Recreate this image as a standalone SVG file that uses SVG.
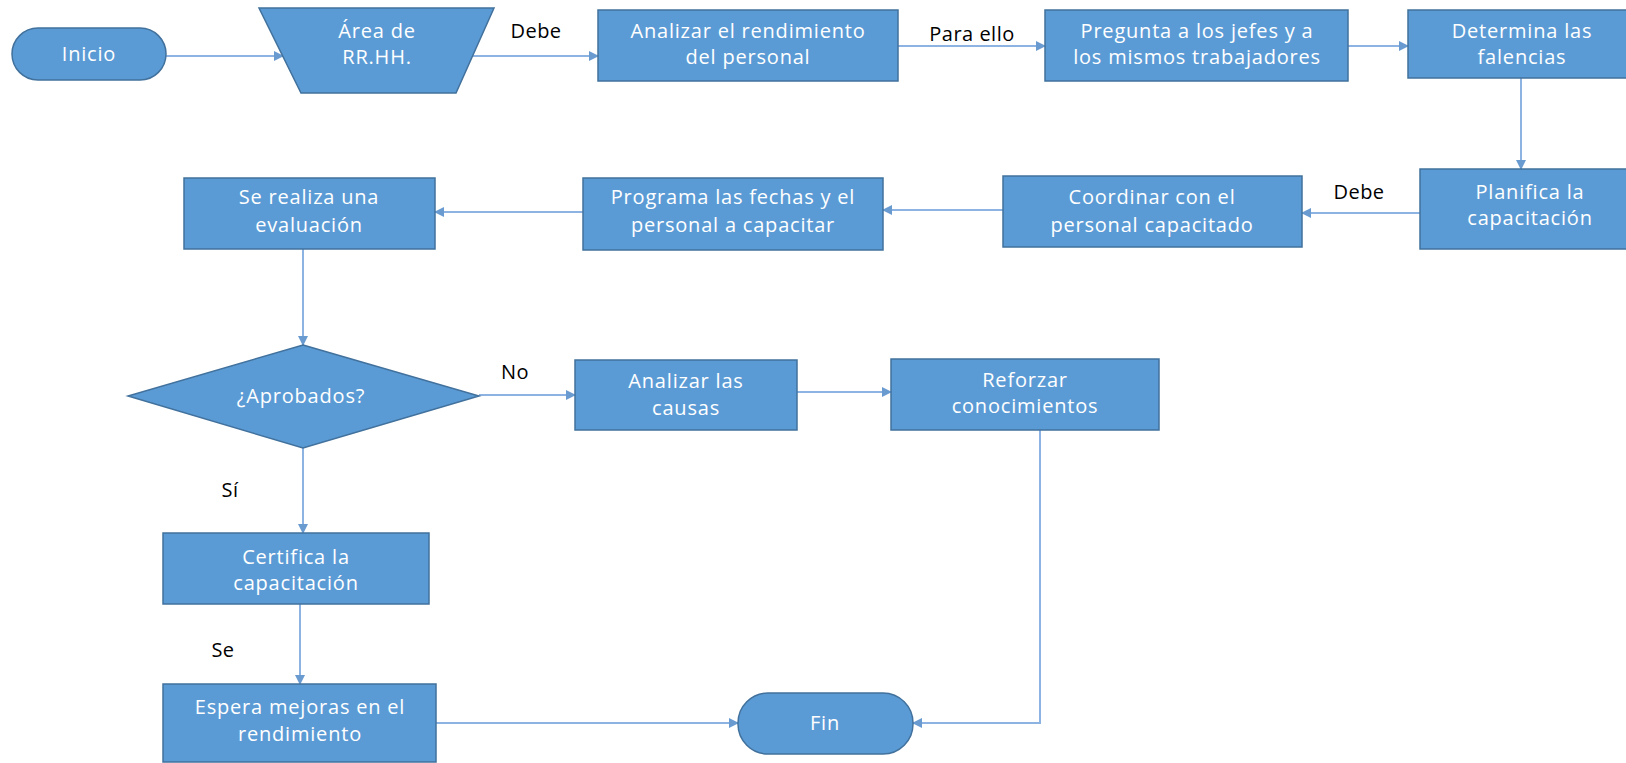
<svg xmlns="http://www.w3.org/2000/svg" width="1626" height="763" viewBox="0 0 1626 763">
<style>
.n{fill:#5B9BD5;stroke:#41719C;stroke-width:1.5}
.t{fill:#ffffff;font-family:"Open Sans","Liberation Sans",sans-serif;font-size:20px;letter-spacing:0.8px;text-anchor:middle}
.l{fill:#000000;font-family:"Open Sans","Liberation Sans",sans-serif;font-size:20px;letter-spacing:0.5px;text-anchor:middle}
.c{fill:none;stroke:#8DB3E2;stroke-width:2;marker-end:url(#a)}
</style>
<defs>
<marker id="a" viewBox="0 0 10 10" refX="9" refY="5" markerWidth="5" markerHeight="5" orient="auto" markerUnits="strokeWidth">
<path d="M0,0 L10,5 L0,10 z" fill="#6A9BD0"/>
</marker>
</defs>
<rect width="1626" height="763" fill="#ffffff"/>
<g id="connectors">
<line class="c" x1="166" y1="56" x2="283" y2="56"/>
<line class="c" x1="473" y1="56" x2="598" y2="56"/>
<line class="c" x1="898" y1="46" x2="1045" y2="46"/>
<line class="c" x1="1348" y1="46" x2="1408" y2="46"/>
<line class="c" x1="1521" y1="78" x2="1521" y2="169"/>
<line class="c" x1="1420" y1="213" x2="1302" y2="213"/>
<line class="c" x1="1003" y1="210" x2="883" y2="210"/>
<line class="c" x1="583" y1="212" x2="435" y2="212"/>
<line class="c" x1="303" y1="249" x2="303" y2="345"/>
<line class="c" x1="479" y1="395" x2="575" y2="395"/>
<line class="c" x1="797" y1="392" x2="891" y2="392"/>
<polyline class="c" points="1040,430 1040,723 913,723"/>
<line class="c" x1="303" y1="448" x2="303" y2="533"/>
<line class="c" x1="300" y1="604" x2="300" y2="684"/>
<line class="c" x1="436" y1="723" x2="738" y2="723"/>
<text class="l" x="536" y="38">Debe</text>
<text class="l" x="972" y="41">Para ello</text>
<text class="l" x="1359" y="199">Debe</text>
<text class="l" x="515" y="379">No</text>
<text class="l" x="230" y="497">Sí</text>
<text class="l" x="223" y="657">Se</text>
</g>
<g id="inicio">
<rect class="n" x="12" y="28" width="154" height="52" rx="26"/>
<text class="t" x="89" y="61">Inicio</text>
</g>
<g id="area">
<polygon class="n" points="259,8 494,8 456,93 301,93"/>
<text class="t" x="377" y="38">Área de</text>
<text class="t" x="377" y="64">RR.HH.</text>
</g>
<g id="analizar">
<rect class="n" x="598" y="10" width="300" height="71"/>
<text class="t" x="748" y="38">Analizar el rendimiento</text>
<text class="t" x="748" y="64">del personal</text>
</g>
<g id="pregunta">
<rect class="n" x="1045" y="10" width="303" height="71"/>
<text class="t" x="1197" y="38">Pregunta a los jefes y a</text>
<text class="t" x="1197" y="64">los mismos trabajadores</text>
</g>
<g id="determina">
<rect class="n" x="1408" y="10" width="230" height="68"/>
<text class="t" x="1522" y="38">Determina las</text>
<text class="t" x="1522" y="64">falencias</text>
</g>
<g id="planifica">
<rect class="n" x="1420" y="169" width="218" height="80"/>
<text class="t" x="1530" y="199">Planifica la</text>
<text class="t" x="1530" y="225">capacitación</text>
</g>
<g id="coordinar">
<rect class="n" x="1003" y="176" width="299" height="71"/>
<text class="t" x="1152" y="204">Coordinar con el</text>
<text class="t" x="1152" y="232">personal capacitado</text>
</g>
<g id="programa">
<rect class="n" x="583" y="178" width="300" height="72"/>
<text class="t" x="733" y="204">Programa las fechas y el</text>
<text class="t" x="733" y="232">personal a capacitar</text>
</g>
<g id="serealiza">
<rect class="n" x="184" y="178" width="251" height="71"/>
<text class="t" x="309" y="204">Se realiza una</text>
<text class="t" x="309" y="232">evaluación</text>
</g>
<g id="aprobados">
<polygon class="n" points="303,345 479,396 303,448 128,396"/>
<text class="t" x="301" y="403">¿Aprobados?</text>
</g>
<g id="causas">
<rect class="n" x="575" y="360" width="222" height="70"/>
<text class="t" x="686" y="388">Analizar las</text>
<text class="t" x="686" y="415">causas</text>
</g>
<g id="reforzar">
<rect class="n" x="891" y="359" width="268" height="71"/>
<text class="t" x="1025" y="387">Reforzar</text>
<text class="t" x="1025" y="413">conocimientos</text>
</g>
<g id="certifica">
<rect class="n" x="163" y="533" width="266" height="71"/>
<text class="t" x="296" y="564">Certifica la</text>
<text class="t" x="296" y="590">capacitación</text>
</g>
<g id="espera">
<rect class="n" x="163" y="684" width="273" height="78"/>
<text class="t" x="300" y="714">Espera mejoras en el</text>
<text class="t" x="300" y="741">rendimiento</text>
</g>
<g id="fin">
<rect class="n" x="738" y="693" width="175" height="61" rx="30"/>
<text class="t" x="825" y="730">Fin</text>
</g>
</svg>
